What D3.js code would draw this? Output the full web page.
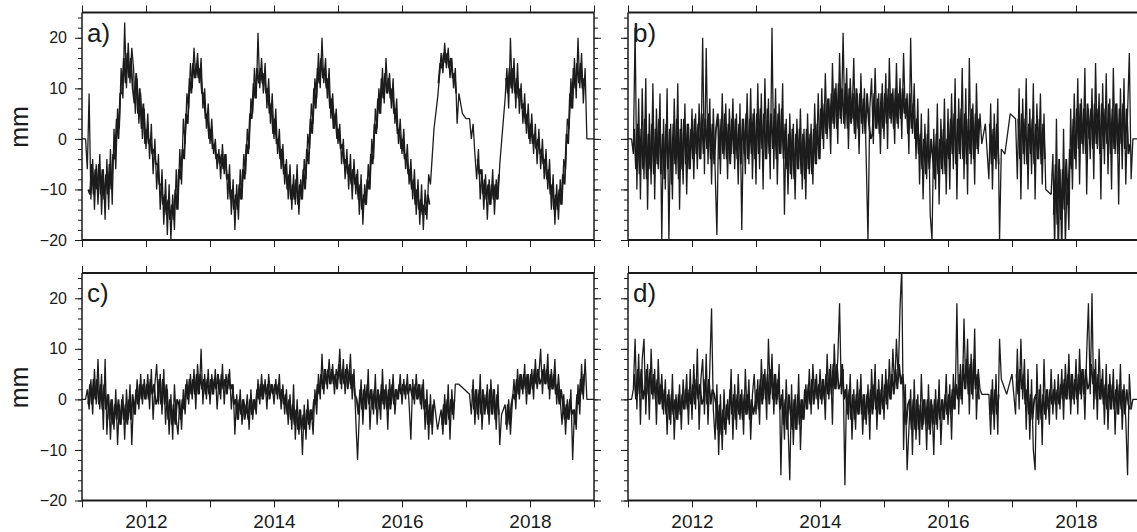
<!DOCTYPE html>
<html>
<head>
<meta charset="utf-8">
<script src="https://cdn.jsdelivr.net/npm/d3@7"></script>
<style>
  html, body { margin: 0; padding: 0; background: #fff; }
  svg { display: block; font-family: "Liberation Sans", Arial, Helvetica, sans-serif; }
</style>
</head>
<body>
<svg id="chart" width="1137" height="532"></svg>
<script>
/* ---------- data: one row per year, 36 samples a year (null = no sample) ---------- */
const YEARS = [2011, 2012, 2013, 2014, 2015, 2016, 2017, 2018];
const PER_YEAR = 36;
const END = [2019, 0];

// main trace samples (spikes and band edges)
const seriesA = [
  [0,0,0,-6,9,-12,-4,-14,-5,-13,-3,-15,-6,-16,-4,-14,-2,-13,2,-6,6,2,14,8,23,10,19,11,18,14,5,12,3,9,0,6],
  [-2,5,-4,3,-7,0,-10,-3,-14,-6,-17,-8,-19,-9,-20,-11,-18,-6,-14,-2,-9,4,-1,9,6,15,10,18,12,17,11,16,6,10,2,7],
  [-1,4,-3,0,-6,-2,-8,-1,-7,-3,-12,-5,-15,-8,-18,-9,-16,-6,-12,-3,-7,2,-2,8,5,14,8,21,10,16,9,15,6,12,3,9],
  [0,6,-3,2,-6,-1,-9,-4,-12,-5,-14,-7,-13,-5,-15,-8,-12,-4,-8,1,-2,7,3,12,8,17,10,20,11,16,8,14,4,9,2,6],
  [-1,3,-5,0,-8,-2,-10,-3,-12,-4,-11,-6,-15,-7,-17,-9,-13,-5,-10,0,-4,6,2,10,5,14,7,16,9,13,6,12,3,8,-1,4],
  [-3,2,-6,-1,-9,-4,-12,-6,-15,-8,-17,-9,-18,-10,-16,-7,-9,null,2,null,8,12,17,13,19,14,18,12,16,10,14,3,9,null,5,null],
  [4,null,4,0,3,-3,-8,-2,-12,-6,-14,-7,-16,-8,-13,-6,-15,-8,-12,-5,null,null,8,14,6,20,9,16,6,15,5,11,3,9,1,7],
  [-1,5,-3,3,-5,2,-6,0,-8,-2,-10,-4,-14,-7,-17,-9,-16,-8,-13,-4,-6,4,2,12,6,16,8,20,10,17,7,14,0,0,0,0]
];
const seriesB = [
  [0,0,0,-3,22,-10,8,-12,10,-8,12,-14,5,-9,11,-12,6,-6,9,-20,4,-10,10,-20,3,-12,8,-7,11,-14,4,-9,7,-11,3,-6],
  [6,-8,5,-6,7,-4,20,-7,18,-5,8,-9,6,-6,-19,4,-7,9,-4,7,-8,6,-3,8,-6,5,-9,7,-18,4,-7,9,-5,10,-8,6],
  [-9,11,-6,9,-10,12,-4,8,-8,22,-6,10,-9,7,-3,11,-15,4,-11,5,-8,3,-12,4,-6,6,-10,2,-12,5,-7,3,-9,7,-5,9],
  [-4,10,-2,13,0,8,-3,15,2,11,-1,17,3,21,2,14,-2,12,4,16,0,9,-3,13,1,10,-4,-20,6,12,-1,14,2,9,-3,11],
  [0,13,-2,16,3,10,-1,15,2,12,0,17,4,9,-3,20,1,11,-4,8,-9,5,-12,3,-8,6,-15,-20,2,-10,7,-13,4,-7,8,-11],
  [6,-10,9,-6,12,-12,8,-4,14,-8,10,-11,16,-5,7,-9,11,-3,5,-1,null,3,null,-8,7,-10,5,-6,8,-20,-2,null,-3,null,null,5],
  [null,null,4,-8,10,-12,8,-5,12,-10,6,-7,11,-12,7,-4,9,-9,5,-10,null,null,-11,-3,-22,4,-24,-6,-23,2,-21,-8,-18,6,-10,9],
  [-6,12,-9,8,-3,14,-11,6,-4,10,-8,15,-2,9,-12,11,-5,13,-7,8,-10,14,-3,7,-13,10,-6,12,-9,5,17,-8,0,0,0,0]
];
const seriesC = [
  [0,0,0,2,-2,4,-3,6,-1,8,-2,5,-6,8,-7,1,-8,0,-6,2,-9,-1,-5,1,-8,2,-4,3,-9,0,-3,4,-2,5,-1,4],
  [0,5,-2,6,-4,3,7,-1,5,-3,6,-5,2,-7,1,-8,3,-4,-7,0,-6,2,-3,4,-1,5,0,6,-2,7,1,10,-1,5,0,6],
  [-1,5,1,6,-2,4,0,7,-1,5,2,6,-2,3,-7,1,-4,2,-5,0,-3,1,-6,2,-4,0,-3,4,-1,5,0,4,-2,5,1,3],
  [-1,4,0,5,-2,3,-3,2,-5,1,-6,3,-8,0,-7,-2,-11,-1,-8,0,-6,-2,-7,2,-3,5,0,9,1,6,2,8,3,7,1,6],
  [4,10,2,8,1,7,3,9,0,6,-4,-12,-3,4,-5,3,-2,6,-6,2,-3,5,-5,1,-4,6,-2,3,-6,4,-1,5,-3,2,0,5],
  [-1,4,0,5,-1,-8,4,-1,5,0,3,-2,4,-6,2,-8,1,-7,0,null,-6,null,-2,-7,1,-5,3,-8,2,-4,3,null,3,null,null,null],
  [null,null,1,-3,4,-5,2,-4,5,-6,1,-2,3,-5,4,-3,2,-6,3,-9,-3,null,-1,-6,0,-7,-1,4,-2,6,0,5,1,7,-1,5],
  [1,6,0,8,2,5,10,1,7,3,9,0,6,2,8,-1,5,0,-5,1,-7,0,-4,2,-12,-2,-6,3,-3,7,0,8,0,0,0,0]
];
const seriesD = [
  [0,0,0,2,12,-2,9,-5,8,12,-3,7,-4,10,0,6,-5,8,-1,5,-3,4,-7,2,-5,5,-8,1,-4,3,-6,4,-2,5,-5,6],
  [-4,7,-2,10,-6,4,8,-3,9,-5,6,18,-2,-8,3,-11,1,-10,2,-7,0,-5,6,-8,3,-6,5,-4,2,-7,6,-3,4,-8,1,5],
  [-3,4,-5,8,0,6,-4,12,1,9,-3,5,0,7,-15,2,-8,4,-5,-16,3,-9,1,-6,5,-10,0,-4,3,-2,6,-3,7,0,5,-2],
  [6,-1,4,-4,9,0,7,-5,11,2,8,19,1,6,-17,3,-4,5,-8,2,-6,4,-3,5,-7,1,-5,3,-8,6,-2,7,-6,4,-3,5],
  [-4,6,-2,8,0,10,2,12,4,18,26,-10,3,-14,-6,2,-11,4,-8,1,-9,5,-5,0,-10,3,-7,-1,-11,2,-6,4,-9,0,-4,5],
  [-5,3,-8,5,-2,19,-3,7,-1,16,2,12,-3,9,0,14,-4,6,2,1,null,null,null,1,-7,4,-6,5,-7,12,4,null,null,1,null,null],
  [5,null,-3,10,-2,12,0,8,-6,6,-8,4,-10,-14,7,-5,3,-9,8,-4,2,-5,6,-3,4,-4,5,-2,6,-4,7,0,9,-3,5,-1],
  [8,-3,10,0,6,-4,9,19,1,21,-2,8,-4,10,0,6,-5,7,-6,5,-2,6,-7,4,-3,7,-6,3,-4,-15,5,-2,0,0,0,0]
];

// in-between samples (half a step later) that fill the dense core of each band
const coreA = [
  [null,null,null,-10,-11,-5,-11,-6,-10,-5,-11,-6,-12,-7,-11,-5,-10,-3,-4,4,0,9,9,16,11,17,12,16,10,7,13,5,10,2,7,-1],
  [2,-1,0,-3,-2,-5,-5,-9,-9,-13,-11,-15,-12,-16,-13,-16,-10,-14,-6,-8,-2,-4,5,3,12,9,15,12,15,12,14,9,9,4,5,0],
  [2,-2,-1,-4,-3,-5,-3,-6,-3,-8,-7,-12,-10,-14,-11,-14,-9,-12,-6,-8,-1,-3,5,4,11,8,14,11,14,11,13,9,10,5,7,1],
  [4,-1,0,-4,-2,-7,-5,-10,-7,-12,-9,-12,-8,-13,-9,-12,-6,-10,-2,-5,4,1,10,6,14,11,16,12,14,10,12,6,8,2,5,0],
  [2,-2,-1,-5,-4,-7,-5,-9,-6,-9,-7,-12,-9,-14,-11,-13,-8,-10,-3,-5,3,1,8,5,12,8,13,9,12,8,10,5,6,1,2,-2],
  [0,-4,-3,-7,-6,-10,-8,-13,-10,-14,-12,-15,-13,-15,-11,-13,null,null,null,null,11,15,14,17,15,17,14,16,12,13,9,null,null,null,null,null],
  [null,null,null,null,null,null,-4,-7,-6,-11,-8,-12,-9,-13,-9,-12,-9,-12,-7,null,null,null,12,9,14,10,14,9,12,8,10,6,7,3,5,0],
  [3,-1,1,-2,0,-3,-2,-5,-4,-8,-6,-11,-9,-14,-11,-14,-10,-13,-7,-9,1,-1,9,6,14,10,15,11,15,10,12,null,null,null,null,null]
];
const coreB = [
  [null,null,null,2,-6,3,-7,2,-6,4,-8,1,-6,3,-7,2,-5,4,-7,1,-8,3,-6,2,-9,3,-5,4,-8,2,-6,4,-5,3,-6,2],
  [-4,4,-3,3,-4,5,-3,4,-2,5,-4,3,-5,2,5,-4,4,-3,5,-4,3,-5,4,-3,4,-4,3,-5,4,-3,5,-4,4,-3,5,-4],
  [5,-3,6,-2,5,-4,6,-3,5,-2,6,-4,5,-3,6,-4,3,-6,1,-7,2,-8,1,-6,2,-7,1,-8,2,-6,1,-7,2,-5,3,-4],
  [6,0,7,1,8,2,9,3,10,2,11,4,10,3,11,2,10,3,9,1,10,2,9,3,8,1,9,3,0,1,9,2,8,1,9,2],
  [9,3,10,4,9,2,10,3,9,4,10,5,8,1,9,2,7,0,4,-3,1,-6,0,-7,1,-6,0,-4,-8,1,-7,0,-6,2,-7,0],
  [-4,4,-3,5,-5,4,-3,6,-4,5,-5,4,-3,6,-4,5,-2,4,null,null,null,null,null,3,-5,2,-4,3,-5,null,null,null,null,null,null,null],
  [null,null,null,4,-4,5,-3,4,-5,3,-3,4,-5,3,-4,4,-5,3,-4,null,null,null,null,-15,-5,-17,-4,-16,-6,-14,-4,-13,-2,-6,4,-4],
  [6,-2,7,-1,6,-3,7,0,6,-2,7,-1,6,-3,7,-2,6,-1,7,-3,6,-2,7,-3,6,-1,7,-2,6,-3,-1,null,null,null,null,null]
];
const coreC = [
  [null,null,null,-1,3,-1,4,0,4,-1,3,-2,3,-2,1,-4,0,-5,-1,-4,0,-5,0,-4,-1,-5,0,-4,1,-3,2,-1,3,0,3,0],
  [3,0,4,1,3,-1,0,4,-1,4,-1,3,-4,0,-5,-1,-5,0,-1,-4,0,-2,3,0,4,1,4,1,5,1,5,2,4,1,4,1],
  [4,1,4,2,5,1,5,2,4,1,5,2,3,-1,0,-4,0,-3,0,-4,-1,-4,0,-3,0,-2,2,0,3,0,3,1,3,0,3,1],
  [3,1,3,0,2,-1,1,-3,0,-4,-1,-5,-2,-6,-2,-6,-3,-6,-2,-5,-2,-4,0,-1,3,1,5,2,6,3,6,3,6,3,5,2],
  [7,3,6,3,6,2,6,2,5,1,0,-3,2,-2,2,-2,3,-1,2,-2,2,-2,2,-2,3,-1,2,-2,2,-2,3,-1,2,0,3,1],
  [3,1,3,1,3,1,0,3,0,3,-1,3,-2,0,-5,-1,-5,-1,null,null,null,null,-5,-1,-5,0,-4,0,-3,0,null,null,null,null,null,null],
  [null,null,null,2,-2,2,-3,2,-3,2,-3,1,-3,2,-3,2,-4,1,-3,null,null,null,-5,-1,-5,-1,1,0,4,1,5,2,5,2,5,1],
  [5,2,6,3,6,3,4,6,3,6,2,5,2,5,1,3,-1,2,-1,-4,-1,-4,0,-3,-2,-5,1,-1,4,1,5,null,null,null,null,null]
];
const coreD = [
  [null,null,null,5,0,6,1,6,0,2,6,1,6,1,5,0,4,-1,3,-2,2,-3,1,-4,1,-3,0,-4,1,-3,1,-2,2,-2,2,-1],
  [3,-1,4,0,3,-1,0,4,-1,4,-1,2,1,-1,-6,-1,-7,-2,-6,-1,-4,2,-3,1,-4,1,-3,1,-4,1,-3,1,-4,0,-3,-1],
  [2,-2,4,-1,5,0,5,-1,6,0,5,-1,4,-2,1,-5,0,-6,1,-3,-6,0,-6,1,-5,0,-4,2,-2,3,-1,4,-1,4,0,3],
  [0,4,0,5,1,6,1,7,2,7,2,3,7,0,2,-3,2,-4,1,-4,1,-3,2,-3,1,-4,1,-3,2,-3,3,-2,2,-3,2,-2],
  [3,-1,4,0,5,1,6,2,7,3,5,0,-5,-1,0,-6,0,-6,0,-6,-1,-6,0,-5,0,-6,0,-5,0,-5,0,-4,0,-4,1,-3],
  [1,-3,2,-2,3,0,5,0,7,2,8,1,7,1,8,2,5,0,null,null,null,null,null,-3,2,-3,2,-3,1,null,null,null,null,null,null,null],
  [null,null,5,1,6,2,5,-1,2,-3,1,-4,0,1,-4,2,-4,1,-3,2,-2,2,-1,2,-1,2,-1,3,0,4,0,5,0,5,0,4],
  [0,5,1,6,1,6,2,3,7,3,6,0,5,0,4,-1,3,-2,3,-2,3,-2,2,-3,3,-2,2,-3,2,-1,-2,null,null,null,null,null]
];

const PANEL_LABELS = ['a)', 'b)', 'c)', 'd)'];
const X_DOMAIN = [2011, 2019];
const X_TICKS = d3.range(2011, 2020, 1);
const X_LABELED = [2012, 2014, 2016, 2018];
const Y_DOMAIN = [-20, 25];
const Y_MAJOR = [-20, -10, 0, 10, 20];
const Y_MINOR = d3.range(-20, 25, 2);
const Y_TITLE = 'mm';

/* ---------- layout ---------- */
const svg = d3.select('#chart');
const PW = 512, PH = 227.5;
const COLS = [82, 628];
const ROWS = [12.5, 273];
const font = '"Liberation Sans", Arial, Helvetica, sans-serif';
const ink = '#1a1a1a';

const panels = [
  { data: seriesA, core: coreA, col: 0, row: 0 },
  { data: seriesB, core: coreB, col: 1, row: 0 },
  { data: seriesC, core: coreC, col: 0, row: 1 },
  { data: seriesD, core: coreD, col: 1, row: 1 },
];

function toPoints(rows, offset) {
  const pts = [];
  rows.forEach((row, yi) => row.forEach((v, j) => {
    pts.push([YEARS[yi] + (j + offset) / PER_YEAR, v]);
  }));
  return pts;
}

panels.forEach((p, i) => {
  const x0 = COLS[p.col], y0 = ROWS[p.row];
  const x = d3.scaleLinear().domain(X_DOMAIN).range([x0, x0 + PW]);
  const y = d3.scaleLinear().domain(Y_DOMAIN).range([y0 + PH, y0]);
  const g = svg.append('g');

  // clip
  const cid = 'clip' + i;
  svg.append('clipPath').attr('id', cid).append('rect')
    .attr('x', x0).attr('y', y0).attr('width', PW).attr('height', PH);

  // series: main trace joins across gaps, core fill breaks at them
  const mainPts = toPoints(p.data, 0).filter(d => d[1] !== null).concat([END]);
  const corePts = toPoints(p.core, 0.5);
  const traces = g.append('g').attr('clip-path', `url(#${cid})`)
    .attr('fill', 'none').attr('stroke', '#1c1c1c').attr('stroke-linejoin', 'bevel');
  traces.append('path').attr('stroke-width', 1.8)
    .attr('d', d3.line().defined(d => d[1] !== null).x(d => x(d[0])).y(d => y(d[1]))(corePts));
  traces.append('path').attr('stroke-width', 1.3)
    .attr('d', d3.line().x(d => x(d[0])).y(d => y(d[1]))(mainPts));

  // y axes, both sides (minor + major)
  [[d3.axisLeft, x0], [d3.axisRight, x0 + PW]].forEach(([ax, xp]) => {
    g.append('g').attr('transform', `translate(${xp},0)`)
      .call(ax(y).tickValues(Y_MINOR).tickSize(4).tickFormat(''));
    const maj = g.append('g').attr('transform', `translate(${xp},0)`)
      .call(ax(y).tickValues(Y_MAJOR).tickSize(7).tickPadding(8)
        .tickFormat(d => (p.col === 0 && ax === d3.axisLeft) ? (d < 0 ? '\u2212' + (-d) : d) : ''));
    maj.selectAll('text').attr('font-size', 16).attr('font-family', font).attr('fill', ink);
  });

  // x axes, top and bottom
  g.append('g').attr('transform', `translate(0,${y0})`)
    .call(d3.axisTop(x).tickValues(X_TICKS).tickSize(7).tickFormat(''));
  const xb = g.append('g').attr('transform', `translate(0,${y0 + PH})`)
    .call(d3.axisBottom(x).tickValues(X_TICKS).tickSize(7).tickPadding(7)
      .tickFormat(d => (p.row === 1 && X_LABELED.includes(d)) ? d : ''));
  xb.selectAll('text').attr('font-size', 19).attr('font-family', font).attr('fill', ink);

  g.selectAll('.domain').remove();
  g.selectAll('.tick line').attr('stroke', ink).attr('stroke-width', 1);

  // frame
  [y0, y0 + PH].forEach(yy => {
    g.append('line').attr('x1', x0).attr('x2', x0 + PW).attr('y1', yy).attr('y2', yy)
      .attr('stroke', ink).attr('stroke-width', 2.2);
  });
  [x0, x0 + PW].forEach(xx => {
    g.append('line').attr('x1', xx).attr('x2', xx).attr('y1', y0).attr('y2', y0 + PH)
      .attr('stroke', ink).attr('stroke-width', 1.5);
  });

  // panel label
  g.append('text').attr('x', x0 + 5).attr('y', y0 + 29)
    .attr('font-size', 26).attr('font-family', font).attr('fill', ink)
    .text(PANEL_LABELS[i]);

  // y title
  if (p.col === 0) {
    g.append('text')
      .attr('transform', `translate(28,${y(0) - 12}) rotate(-90)`)
      .attr('text-anchor', 'middle')
      .attr('font-size', 25).attr('font-family', font).attr('fill', ink)
      .text(Y_TITLE);
  }
});
</script>
</body>
</html>
